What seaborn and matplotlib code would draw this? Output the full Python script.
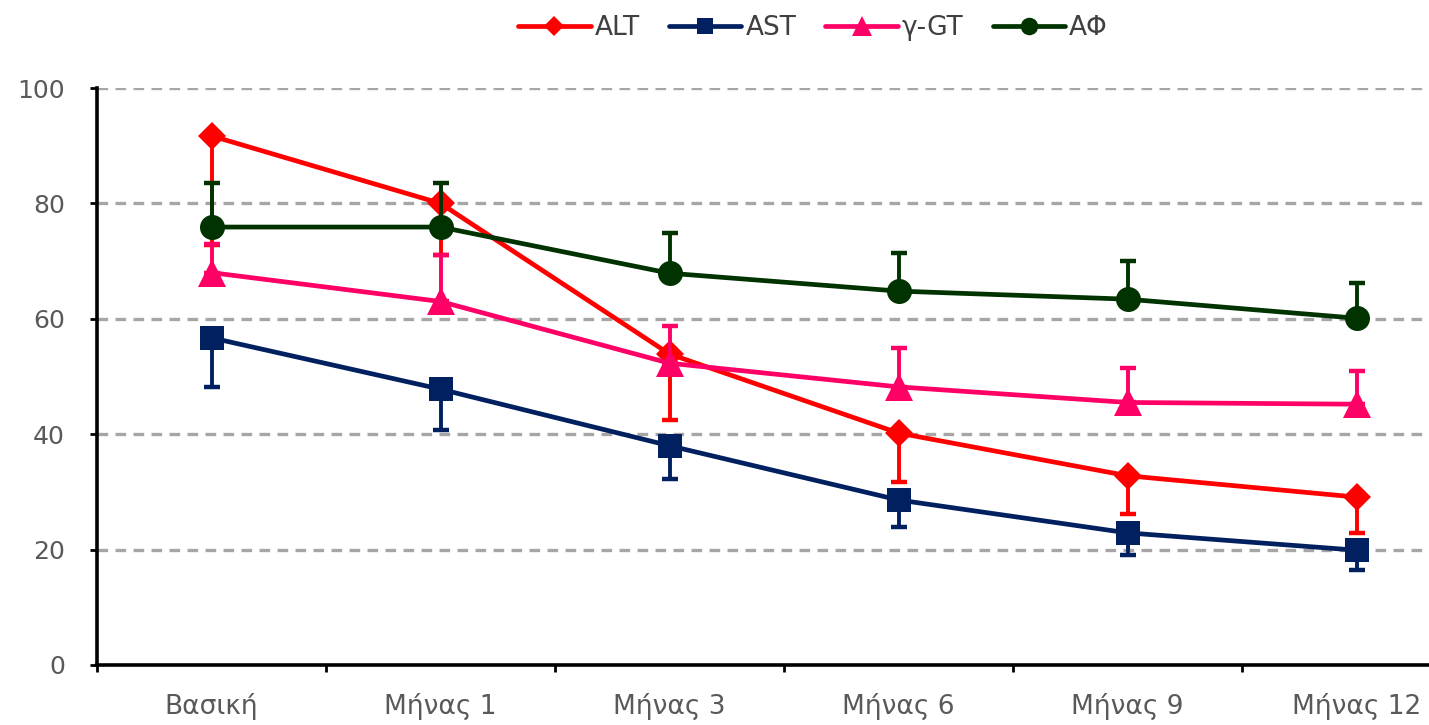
import numpy as np
import pandas as pd
import seaborn as sns
import matplotlib.pyplot as plt

# categories and series
labels = ['Βασική', 'Μήνας 1', 'Μήνας 3', 'Μήνας 6', 'Μήνας 9', 'Μήνας 12']

alt = [91.7, 80.0, 53.9, 40.2, 32.8, 29.1]
alt_err_low = [18.9, 9.0, 11.4, 8.5, 6.6, 6.2]

ast = [56.7, 47.8, 38.0, 28.6, 22.9, 19.9]
ast_err_low = [8.5, 7.1, 5.8, 4.7, 3.8, 3.4]

ggt = [68.0, 63.0, 52.3, 48.2, 45.5, 45.2]
ggt_err_up = [5.0, 8.0, 6.5, 6.7, 6.0, 5.8]

alp = [75.9, 75.9, 67.9, 64.8, 63.4, 60.1]
alp_err_up = [7.6, 7.6, 7.0, 6.6, 6.6, 6.1]

series_names = ['ALT', 'AST', 'γ-GT', 'AΦ']
colors = ['#FF0000', '#002060', '#FF0066', '#003300']
markers = ['D', 's', '^', 'o']
msizes = [14, 17, 20, 18]

sns.set_style('white')
plt.rcParams['font.family'] = ['DejaVu Sans']

fig = plt.figure(figsize=(14.29, 7.25), dpi=100)
ax = fig.add_axes([97 / 1429, 1 - 665 / 725, (1471 - 97) / 1429, (665 - 88) / 725])

x = np.arange(len(labels))
values = [alt, ast, ggt, alp]
errs = [
    [alt_err_low, [0] * 6],
    [ast_err_low, [0] * 6],
    [[0] * 6, ggt_err_up],
    [[0] * 6, alp_err_up],
]

df = pd.DataFrame({'x': np.tile(x, 4),
                   'value': np.concatenate(values),
                   'series': np.repeat(series_names, 6)})

for i, name in enumerate(series_names):
    sub = df[df['series'] == name]
    ax.errorbar(sub['x'], sub['value'], yerr=errs[i], fmt='none',
                ecolor=colors[i], elinewidth=2.8, capsize=6, capthick=3.2,
                zorder=2 + i * 2)
    sns.lineplot(data=sub, x='x', y='value', color=colors[i], marker=markers[i],
                 markersize=msizes[i], markeredgewidth=0, linewidth=3.4,
                 label=name, ax=ax, zorder=3 + i * 2)

ax.set_xlim(-0.5, 5.5)
ax.set_ylim(0, 100)
ax.set_yticks([0, 20, 40, 60, 80, 100])
ax.set_xticks(x)
ax.set_xticklabels(labels)
ax.set_xticks(np.arange(-0.5, 6, 1), minor=True)
ax.set_xlabel('')
ax.set_ylabel('')

for yv in [20, 40, 60, 80, 100]:
    ax.axhline(yv, color='#A6A6A6', linewidth=2.4, linestyle=(0, (3.2, 2.2)), zorder=1)

for side in ['top', 'right']:
    ax.spines[side].set_visible(False)
for side in ['left', 'bottom']:
    ax.spines[side].set_color('black')
    ax.spines[side].set_linewidth(2.6)

ax.tick_params(axis='y', which='major', direction='out', length=5, width=2,
               color='black', left=True, labelsize=18, labelcolor='#595959', pad=18)
ax.tick_params(axis='x', which='major', length=0, labelsize=19,
               labelcolor='#595959', pad=20)
ax.tick_params(axis='x', which='minor', direction='out', length=5, width=2,
               color='black', bottom=True)

ax.get_legend().remove()
handles, lbls = ax.get_legend_handles_labels()
fig.legend(handles, lbls, loc='upper center', bbox_to_anchor=(813 / 1429, 1.012),
           ncol=4, frameon=False, fontsize=19, labelcolor='#404040',
           handlelength=2.75, handletextpad=0.15, columnspacing=1.1, markerscale=0.7)

fig.savefig('out.png', dpi=100)
